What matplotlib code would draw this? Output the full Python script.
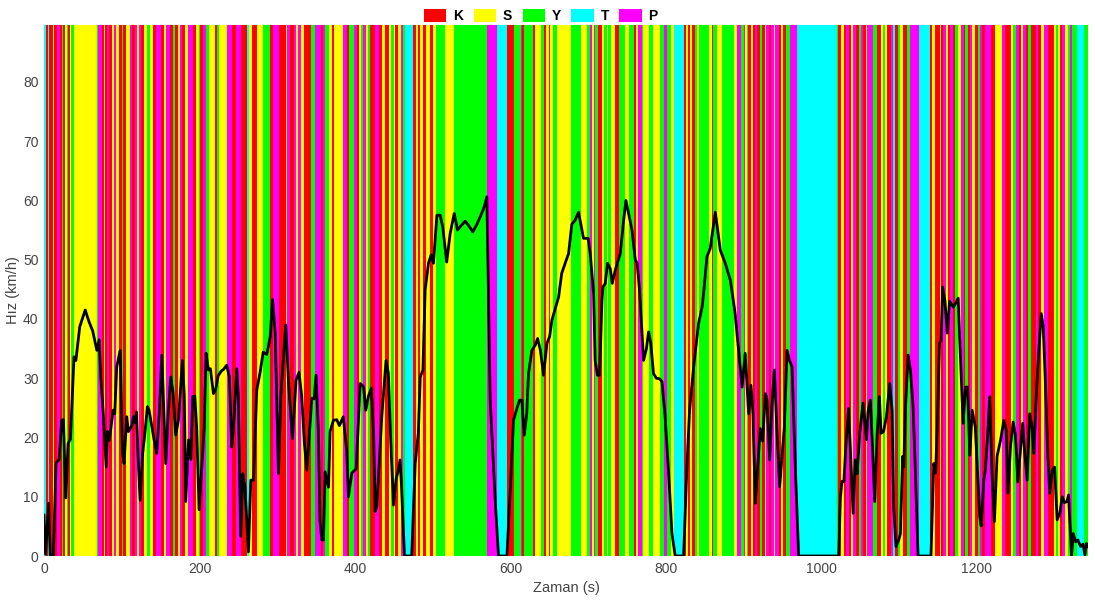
import numpy as np
import matplotlib
matplotlib.use('Agg')
import matplotlib.pyplot as plt
from matplotlib.patches import Patch

plt.rcParams['font.family'] = ['Liberation Sans', 'DejaVu Sans']

# Mod kategorileri ve renkleri
kategoriler = ['K', 'S', 'Y', 'T', 'P']
renkler = {'K': '#ff0000', 'S': '#ffff00', 'Y': '#00ff00',
           'T': '#00ffff', 'P': '#ff00ff'}

# Bolumlerin baslangic zamanlari (s) ve kategorileri
bolum_bas = [0, 2, 5, 7, 12, 13, 17, 20, 23, 25, 27, 29, 31, 33, 35, 38, 68, 70, 74, 77,
             79, 81, 84, 88, 90, 93, 96, 100, 102, 105, 110, 113, 117, 119, 122, 125, 129, 133, 136, 140,
             144, 150, 155, 157, 162, 166, 168, 172, 175, 178, 182, 185, 192, 196, 199, 201, 205, 208, 212, 220,
             223, 225, 236, 242, 247, 253, 261, 264, 268, 274, 282, 291, 294, 302, 311, 313, 317, 321, 324, 327,
             331, 334, 344, 349, 356, 359, 362, 366, 371, 373, 385, 390, 392, 399, 402, 405, 408, 411, 414, 417,
             420, 426, 431, 435, 439, 444, 446, 450, 452, 455, 459, 462, 464, 475, 478, 481, 484, 488, 491, 497,
             501, 504, 516, 527, 570, 583, 596, 604, 613, 615, 618, 629, 632, 639, 643, 646, 649, 651, 655, 660,
             675, 678, 691, 699, 703, 705, 707, 709, 713, 718, 720, 724, 726, 730, 735, 740, 748, 752, 759, 761,
             764, 769, 771, 778, 784, 793, 797, 801, 806, 810, 823, 826, 828, 831, 834, 837, 840, 842, 855, 859,
             861, 866, 872, 887, 891, 896, 900, 902, 904, 906, 909, 912, 915, 917, 921, 924, 927, 929, 932, 935,
             939, 941, 945, 948, 951, 955, 960, 969, 1020, 1022, 1025, 1029, 1032, 1035, 1038, 1041, 1045, 1048, 1051, 1054,
             1058, 1059, 1067, 1071, 1077, 1079, 1082, 1085, 1089, 1092, 1095, 1098, 1101, 1105, 1110, 1114, 1125, 1140, 1142, 1146,
             1152, 1154, 1157, 1160, 1163, 1166, 1169, 1172, 1176, 1179, 1183, 1185, 1188, 1191, 1194, 1198, 1201, 1204, 1207, 1211,
             1218, 1224, 1233, 1236, 1244, 1247, 1250, 1254, 1257, 1260, 1263, 1266, 1270, 1276, 1279, 1283, 1286, 1292, 1299, 1302,
             1304, 1307, 1310, 1314, 1317, 1320, 1323, 1329, 1338]
bolum_kat = ('TKTKSKPKYKSYKSYSYPKS'
             'KPKSPSKYKSPKPSPKSYSK'
             'PKSPKYKSPKSPKSYKPYSK'
             'YSPKPKTSKSYKPKSPKPSP'
             'SKYPKPYSKSPKYPKSYPSY'
             'KPKSKSYSKSPYTKSKSKSK'
             'SYSYPTKYPKYKSYKSKSYS'
             'SYSYPSPYKSYSYSKYSYKS'
             'PYSYSYPYSTKSKSKYSYSK'
             'YSYSPYPSYKSKPKYKSPKP'
             'SPKSKYPTYKSKPKSPKYPK'
             'SPYKSYSKPTKYSKYPTKSK'
             'SKPSKPKYSPKYKPSKYPKP'
             'KSPKSYPKSPKYKPKSPKSY'
             'SKPSYPYTY')
bitis = 1343

# Hiz olcumleri: zaman (s) ve hiz (km/h)
zaman = [0, 2, 6, 8, 12, 15.5, 19.5, 22.7, 25, 28,
         31, 34, 38.6, 41, 46, 53, 58, 62.6, 68, 71,
         73, 76, 80, 81.5, 84, 89, 91, 93.5, 98, 101,
         103, 106.4, 108.6, 113, 115, 117, 119, 121, 123.6, 127,
         130, 133, 135, 138.6, 141.6, 145, 148.5, 151.5, 154, 156.6,
         160, 163, 166, 169.5, 173, 175, 178, 180.5, 182.3, 186,
         189, 191.3, 194, 196.5, 199.5, 203, 206, 208.5, 211.5, 214,
         218, 221, 224, 228, 231, 235, 238.5, 241.5, 243.6, 248,
         250, 253, 255.7, 258.5, 263, 266, 269.5, 273.7, 278, 282,
         286.6, 291, 294, 297.4, 301.6, 304.6, 311, 314.6, 319.6, 324.3,
         328, 331.5, 335, 338, 341.6, 344.5, 347.5, 350, 353, 355,
         357.4, 359.5, 361.6, 366, 368, 372.3, 376.6, 380, 385, 389.4,
         391.6, 396, 401.6, 406.7, 411, 414, 417.4, 421, 424, 426,
         428, 431, 434.5, 440, 443, 446, 449.6, 453, 455, 458,
         460, 463.7, 473, 477.5, 481.5, 484, 487.5, 490.3, 494.6, 498,
         501, 505.4, 509.6, 513, 518, 522.5, 527.7, 532, 535, 541.8,
         546, 551.7, 557, 561, 565.5, 569.7, 571, 574, 580.4, 584.7,
         595.5, 600, 604, 607.7, 611.7, 614.7, 617.8, 621, 623.3, 627.6,
         632, 635, 638.6, 642.6, 647, 650.4, 653.4, 659, 662, 666,
         672, 674.8, 679, 683, 687.7, 692, 694, 700, 702.7, 707,
         709, 712, 714.7, 717.7, 719, 722, 725, 728.4, 731, 735,
         741.3, 745.6, 748.6, 752, 756.4, 760.6, 763, 766, 771.3, 775,
         777.7, 780.6, 784, 787.7, 792, 795, 799, 803.5, 807.8, 812,
         822.8, 827, 830.5, 835.7, 842, 846.6, 848.5, 852.8, 857, 863.6,
         870, 876.4, 883, 889, 893.6, 898, 902, 906.5, 909.5, 912,
         915, 918, 921.5, 924.5, 928, 930, 933.5, 936.5, 939.5, 943,
         946.4, 949.4, 952.4, 955.8, 959, 962.3, 966.5, 970.8, 1022.3, 1024.5,
         1026.6, 1029, 1032, 1035, 1038, 1040.8, 1043.7, 1046, 1049.3, 1053.6,
         1058, 1060, 1063, 1065, 1068.6, 1071.6, 1074.6, 1076.8, 1080, 1083.7,
         1088, 1091, 1093, 1096, 1099.5, 1101.7, 1104.6, 1106, 1108, 1111.6,
         1114.6, 1118, 1121, 1124.4, 1141, 1144.6, 1147, 1149, 1152, 1154,
         1156, 1159, 1162, 1165, 1170, 1176, 1178, 1182.4, 1185.4, 1188,
         1191, 1194, 1198, 1201, 1203.8, 1205.6, 1209, 1211, 1214, 1216.6,
         1219.6, 1222.6, 1226, 1230.6, 1234.7, 1237.7, 1240, 1243.3, 1246.7, 1249.7,
         1252.7, 1256, 1259, 1261.6, 1264.7, 1268, 1271, 1273.3, 1276.8, 1279.7,
         1282.9, 1285.4, 1288.3, 1291.3, 1293.8, 1297, 1300, 1303.3, 1306.7, 1309.8,
         1312.8, 1316, 1318, 1320, 1321.8, 1324, 1327, 1330, 1333.5, 1336.6,
         1339, 1341, 1343]
hiz = [6.9, 0.3, 8.9, 0, 0, 15.7, 16.3, 22.9, 23, 9.8,
       19, 19.7, 33.6, 33, 38.7, 41.5, 39.5, 38, 34.7, 36.5,
       30.2, 24.6, 15, 21, 19.5, 24.6, 24, 31.9, 34.7, 17.4,
       15.6, 23.5, 21, 22, 23.5, 22.5, 24.3, 16.8, 9.4, 17.4,
       21, 25.2, 24.7, 22, 19.6, 17.3, 24.6, 33.9, 25, 15.6,
       24.6, 30.2, 27.6, 20.4, 23, 27, 33, 27, 9.2, 19.6,
       16.3, 26.9, 27, 21.3, 7.8, 15, 21.5, 34.2, 31.4, 31.6,
       27.4, 28.2, 30.4, 31.2, 31.5, 32.2, 30.2, 18.4, 21.5, 31.6,
       26.9, 3.3, 13.9, 11.6, 0.7, 12.8, 12.8, 28, 31, 34.4,
       34, 37, 43.3, 37.6, 13.9, 27, 39, 29.1, 19.8, 29.7,
       31, 27, 19, 14.5, 21, 26.6, 26.5, 30.5, 21, 6,
       2.7, 2.7, 14.2, 11.6, 21, 22.9, 23, 22, 23.5, 17.8,
       10, 14, 14.7, 29.1, 28.6, 24.6, 27, 28.3, 20.7, 7.5,
       8.3, 15, 23.5, 33, 30.8, 19.6, 8.6, 13.1, 14, 16.2,
       11.6, 0, 0, 15.6, 20.7, 30.2, 31.4, 44.9, 49.4, 50.8,
       49.4, 57.5, 57.5, 55.5, 49.6, 54.4, 57.8, 55, 55.5, 56.5,
       55.8, 54.7, 56, 57.2, 58.6, 60.6, 50, 26.3, 9.4, 0,
       0, 11.7, 22.9, 24.6, 26.3, 26.3, 20.4, 24, 30.8, 34.7,
       35.6, 36.7, 34.7, 30.5, 35.9, 37, 39.8, 42.3, 43.7, 47.7,
       50, 51, 56, 56.6, 58, 55, 53.6, 53.6, 51, 44.3,
       33, 30.5, 30.5, 43, 45.4, 46, 49.4, 48.5, 46, 48.3,
       51, 56.6, 60, 57.8, 55, 50, 49.4, 45, 33, 35,
       37.8, 35.9, 30.8, 30, 29.9, 29.4, 23.5, 14, 3.8, 0,
       0, 15, 24.6, 31.9, 39.2, 42, 44.3, 50.5, 51.9, 58,
       51.6, 49.4, 46.5, 41, 34.7, 28.5, 34.2, 24, 28.8, 24,
       8.9, 15, 21.5, 19.4, 27.4, 26.4, 16.2, 25.5, 31.4, 20.7,
       11.7, 16.9, 21.8, 34.7, 33, 31.9, 15, 0, 0, 10,
       12.6, 12.6, 19.6, 24.9, 16, 7.2, 16.2, 13.9, 20.7, 25.8,
       19.6, 24.3, 26.3, 20.7, 9.2, 20.2, 26.9, 20.7, 21, 23.5,
       29.1, 24.6, 8.3, 1.6, 2.7, 3.8, 16.8, 15, 24.6, 33.9,
       31.4, 25.2, 14, 0, 0, 15.6, 14, 21.4, 35.9, 36.4,
       45.4, 43, 37.6, 43, 42, 43.5, 36.4, 22.4, 28.5, 28.5,
       17, 24.6, 21.8, 14, 6.6, 5.1, 12.8, 14.5, 20.7, 26.9,
       13.5, 5.8, 16.8, 19.6, 22.9, 21.3, 10.6, 18.4, 22.6, 20.4,
       12.5, 17.8, 22.4, 17.4, 12.8, 24, 21.8, 17.3, 28, 34.7,
       40.9, 38.7, 29.1, 16.8, 10.6, 14.5, 15, 6.1, 7.2, 10,
       9, 9.2, 10.3, 5, 0, 3.8, 2.4, 2.7, 1.6, 2,
       0.2, 2.1, 1.6]

fig = plt.figure(figsize=(10.95, 6.01), dpi=100)
ax = fig.add_axes([44/1095, 45/601, 1044/1095, 531/601])

# Arka plan bantlari
sinirlar = bolum_bas + [bitis]
for i, k in enumerate(bolum_kat):
    ax.axvspan(sinirlar[i], sinirlar[i+1], color=renkler[k], lw=0, zorder=1)

# Hiz egrisi
ax.plot(zaman, hiz, color='black', linewidth=2.0, zorder=3)

ax.set_xlim(0, bitis)
ax.set_ylim(0, 89.6)
ax.set_xticks(np.arange(0, 1201, 200))
ax.set_yticks(np.arange(0, 81, 10))
for s in ax.spines.values():
    s.set_visible(False)
ax.tick_params(length=0, labelsize=10, labelcolor='#444444', pad=4)
ax.set_xlabel('Zaman (s)', fontsize=10.5, color='#444444', labelpad=4)
ax.set_ylabel('Hız (km/h)', fontsize=10.5, color='#444444', labelpad=2)

handles = [Patch(facecolor=renkler[k], edgecolor='none', label=k) for k in kategoriler]
leg = fig.legend(handles=handles, loc='upper center', bbox_to_anchor=(0.494, 1.0),
                 ncol=5, frameon=False, fontsize=10, handlelength=1.6,
                 handleheight=1.1, handletextpad=0.5, columnspacing=0.75,
                 borderpad=0.15)
for t in leg.get_texts():
    t.set_fontweight('bold')

plt.savefig('out.png', dpi=100)
